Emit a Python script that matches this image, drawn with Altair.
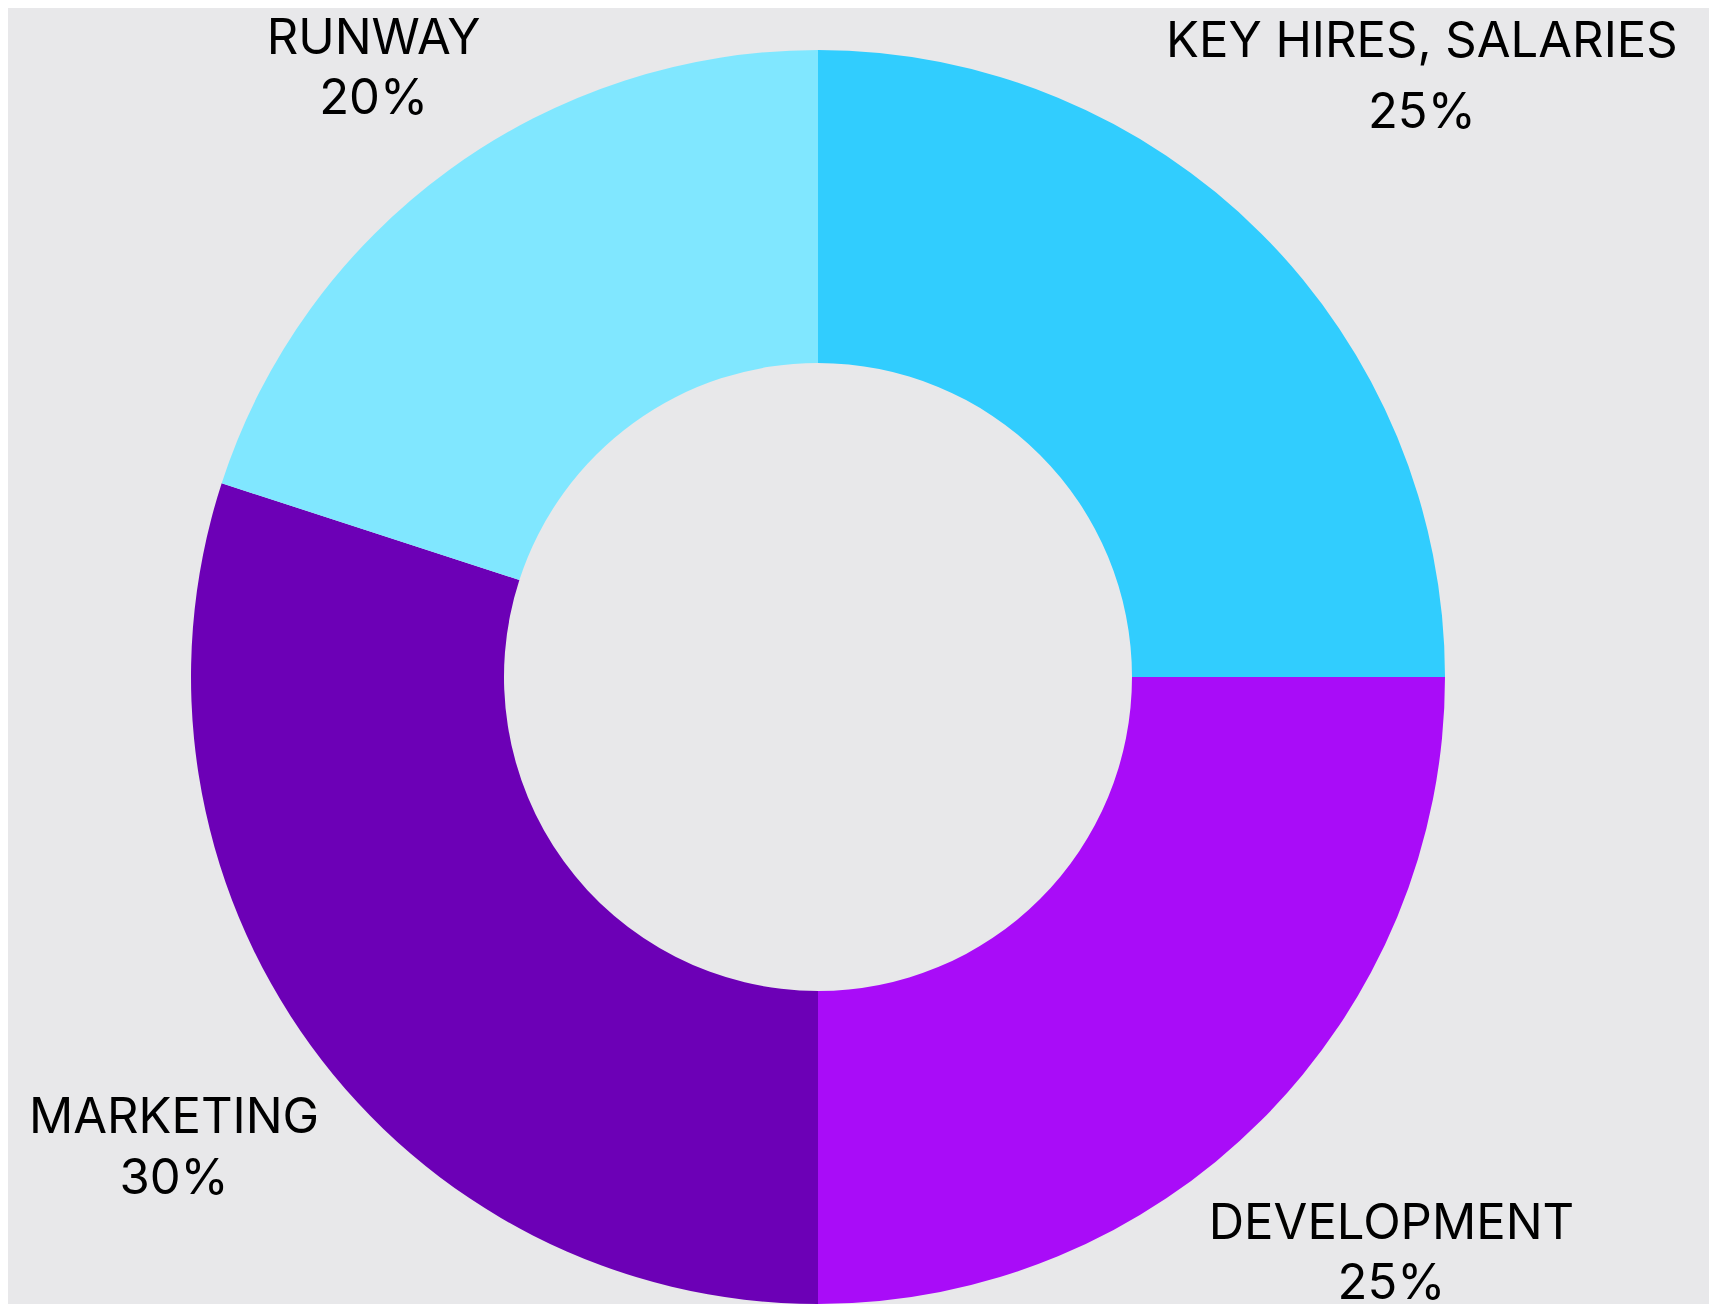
import math
import altair as alt
import pandas as pd

categories = ["KEY HIRES, SALARIES", "DEVELOPMENT", "MARKETING", "RUNWAY"]
values = [25, 25, 30, 20]
colors = ["#31CDFE", "#A90CF8", "#6C00B6", "#80E7FF"]
order = [0, 1, 2, 3]

df = pd.DataFrame({"category": categories, "value": values, "order": order})
df["label"] = [f"{c}\n{v}%" for c, v in zip(categories, values)]

CX, CY = 810, 669
FONT = "Inter"

theta_scale = alt.Scale(domain=[0, 100], range=[0, 2 * math.pi])
color_scale = alt.Scale(domain=categories, range=colors)

base = alt.Chart(df)

arcs = base.mark_arc(innerRadius=314, outerRadius=627, stroke=None).encode(
    theta=alt.Theta("value:Q", scale=theta_scale, stack=True),
    order=alt.Order("order:Q"),
    color=alt.Color("category:N", scale=color_scale, legend=None),
    x=alt.value(CX),
    y=alt.value(CY),
)

label_style = {
    "KEY HIRES, SALARIES": dict(radius=854, lineHeight=71),
    "DEVELOPMENT": dict(radius=811, lineHeight=60),
    "MARKETING": dict(radius=796, lineHeight=61),
    "RUNWAY": dict(radius=756, lineHeight=60),
}

text_layers = []
for cat in categories:
    st = label_style[cat]
    t = (
        base.transform_window(cum="sum(value)", sort=[alt.SortField("order")])
        .transform_calculate(mid="datum.cum - datum.value / 2")
        .transform_filter(alt.datum.category == cat)
        .mark_text(
            radius=st["radius"],
            lineHeight=st["lineHeight"],
            lineBreak="\n",
            dy=-st["lineHeight"] / 2 + 4,
            font=FONT,
            fontSize=49,
            color="#000000",
            align="center",
            baseline="middle",
        )
        .encode(
            theta=alt.Theta("mid:Q", scale=theta_scale, stack=None),
            text="label:N",
            x=alt.value(CX),
            y=alt.value(CY),
        )
    )
    text_layers.append(t)

chart = (
    alt.layer(arcs, *text_layers)
    .properties(
        width=1701,
        height=1296,
        background="#E8E8EA",
        padding=0,
        autosize=alt.AutoSizeParams(type="none"),
    )
    .configure_view(stroke=None)
)

chart.save("out.html", embed_options={"renderer": "svg", "actions": False})
